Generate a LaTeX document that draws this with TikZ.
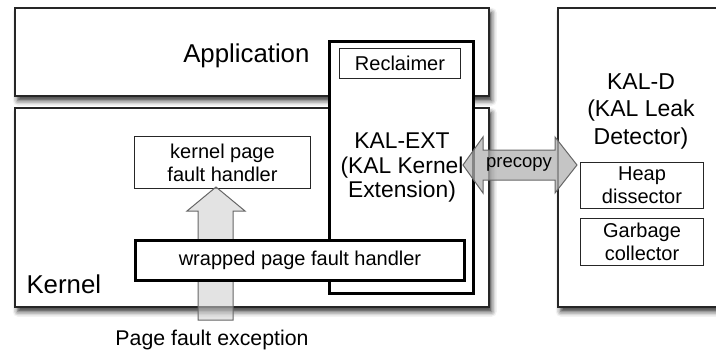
\documentclass[tikz,border=0pt]{standalone}
\usepackage{fontspec}
\setmainfont{Liberation Sans}
\usetikzlibrary{shadows.blur}
\begin{document}
\begin{tikzpicture}[x=1pt,y=-1pt,
  outerbox/.style={draw=black!85,line width=1.5pt,fill=white,anchor=north west,inner sep=0pt,
    blur shadow={shadow xshift=3pt,shadow yshift=-5pt,shadow blur radius=5pt,shadow opacity=80}},
  thinbox/.style={draw=black!85,line width=1pt,fill=white,anchor=north west,inner sep=0pt,align=center,
    font=\fontsize{20}{23}\selectfont},
  thickbox/.style={draw=black,line width=3pt,fill=white,anchor=north west,inner sep=0pt,align=center},
  big/.style={font=\fontsize{25.8}{30}\selectfont},
  mid/.style={align=center},
  blockarrow/.style={draw=black!60,line width=1pt}
]
\useasboundingbox (0,0) rectangle (716,354);
% outer boxes
\node[outerbox,minimum width=474pt,minimum height=88pt] (app) at (14,7) {};
\node[outerbox,minimum width=474pt,minimum height=199pt] (kern) at (14,107) {};
\node[outerbox,minimum width=180pt,minimum height=299pt] (kald) at (557,7) {};
\node[big,anchor=base east] (apptxt) at (313,62) {Application};
\node[big,anchor=base west] (kerntxt) at (23,293) {Kernel};
% kernel page fault handler
\node[thinbox,minimum width=176pt,minimum height=52pt] (kpfh) at (134,136) {kernel page\\fault handler};
% up arrow
\draw[blockarrow,fill=black!20,fill opacity=0.55]
  (198,320) -- (198,211) -- (187,211) -- (216,187) -- (245,211) -- (233,211) -- (233,320) -- cycle;
% KAL-EXT
\node[thickbox,minimum width=144pt,minimum height=252pt] (ext) at (328,40) {};
\node[thinbox,minimum width=121pt,minimum height=30pt] (recl) at (339,48) {Reclaimer};
\node[mid,font=\fontsize{22.8}{24.5}\selectfont] (exttxt) at (402,168) {KAL-EXT\\(KAL Kernel\\Extension)};
% wrapped
\node[thickbox,minimum width=329pt,minimum height=40pt,font=\fontsize{20}{24}\selectfont] (wrap) at (134,239) {wrapped page fault handler};
% KAL-D text
\node[mid,font=\fontsize{23}{27.5}\selectfont] (kaldtxt) at (641,111) {KAL-D\\(KAL Leak\\Detector)};
% precopy arrow
\draw[blockarrow,fill=black!30,fill opacity=0.75]
  (463,165) -- (483,137) -- (483,150) -- (555,150) -- (555,137) -- (577,165)
  -- (555,193) -- (555,180) -- (483,180) -- (483,193) -- cycle;
\node[font=\fontsize{18.5}{22}\selectfont] (pc) at (519,164) {precopy};
% heap boxes
\node[thinbox,minimum width=123pt,minimum height=46pt] (heap) at (580,162) {Heap\\dissector};
\node[thinbox,minimum width=123pt,minimum height=47pt] (gc) at (580,218) {Garbage\\collector};
% caption
\node[font=\fontsize{21.3}{25}\selectfont,anchor=base] (pfe) at (212,345) {Page fault exception};
\end{tikzpicture}
\end{document}
